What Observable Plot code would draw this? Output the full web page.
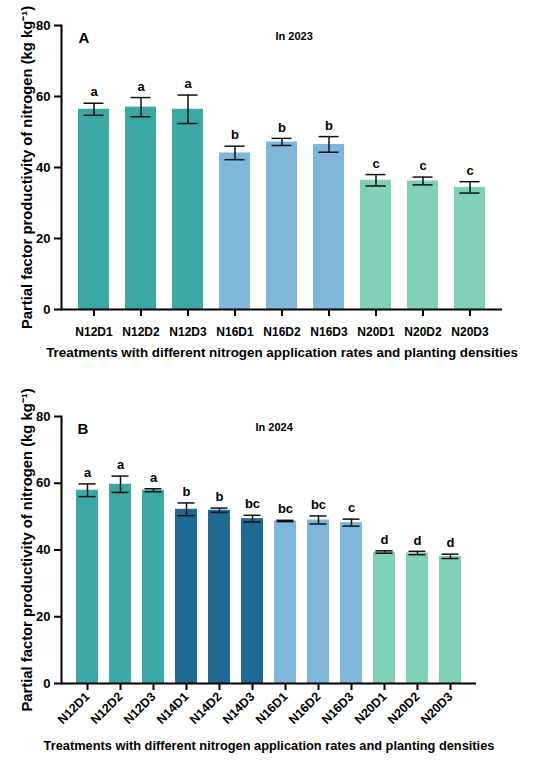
<!DOCTYPE html>
<html>
<head>
<meta charset="utf-8">
<script src="https://cdn.jsdelivr.net/npm/d3@7"></script>
<script src="https://cdn.jsdelivr.net/npm/@observablehq/plot@0.6"></script>
<style>
  html, body { margin: 0; padding: 0; background: white; }
  #chart svg { display: block; }
</style>
</head>
<body>
<div id="chart"></div>
<script>
// ---- Data ----
const treatA = ["N12D1","N12D2","N12D3","N16D1","N16D2","N16D3","N20D1","N20D2","N20D3"];
const meanA  = [56.4, 57.0, 56.4, 44.1, 47.2, 46.5, 36.4, 36.2, 34.4];
const sdA    = [1.7, 2.7, 4.0, 1.9, 1.0, 2.2, 1.6, 1.1, 1.6];
const letA   = ["a","a","a","b","b","b","c","c","c"];

const treatB = ["N12D1","N12D2","N12D3","N14D1","N14D2","N14D3","N16D1","N16D2","N16D3","N20D1","N20D2","N20D3"];
const meanB  = [57.9, 59.7, 57.9, 52.2, 51.9, 49.4, 48.7, 49.0, 48.2, 39.4, 39.1, 38.1];
const sdB    = [1.9, 2.45, 0.45, 1.9, 0.65, 1.0, 0.2, 1.2, 1.05, 0.35, 0.5, 0.65];
const letB   = ["a","a","a","b","b","bc","bc","bc","c","d","d","d"];

const groups = ["N12","N14","N16","N20"];
const groupColors = ["#3aa8a5","#1f6995","#7eb7d9","#80cfb8"];
const yTicks = [0, 20, 40, 60, 80];
const yLabel = "Partial factor productivity of nitrogen (kg kg\u207B\u00B9)";
const xLabel = "Treatments with different nitrogen application rates and planting densities";

function rows(t, m, s, l) {
  return t.map((d, i) => ({t: d, m: m[i], s: s[i], l: l[i], g: d.slice(0, 3)}));
}

function panel(o) {
  const data = rows(o.t, o.m, o.s, o.l);
  return Plot.plot({
    width: 550,
    height: o.height,
    marginLeft: 61,
    marginRight: o.marginRight,
    marginTop: o.marginTop,
    marginBottom: o.marginBottom,
    style: {fontFamily: "'Liberation Sans', Arial, Helvetica, sans-serif", fontWeight: "bold", color: "black", background: "white"},
    x: {domain: o.t, paddingInner: 0.33, paddingOuter: 0.3, label: null},
    y: {domain: [0, 80], label: null},
    color: {domain: groups, range: groupColors},
    marks: [
      Plot.barY(data, {x: "t", y: "m", fill: "g"}),
      Plot.ruleX(data, {x: "t", y1: d => d.m - d.s, y2: d => d.m + d.s, stroke: "#111", strokeWidth: 1.5}),
      Plot.tickY(data, {x: "t", y: d => d.m + d.s, stroke: "#111", strokeWidth: 1.5, insetLeft: o.capInset, insetRight: o.capInset}),
      Plot.tickY(data, {x: "t", y: d => d.m - d.s, stroke: "#111", strokeWidth: 1.5, insetLeft: o.capInset, insetRight: o.capInset}),
      Plot.text(data, {x: "t", y: d => d.m + d.s, text: "l", dy: -11, fontSize: 13, fontWeight: "bold"}),
      Plot.axisY({ticks: yTicks, tickSize: 7, tickPadding: 4, fontSize: 13, strokeWidth: 2, label: null}),
      Plot.axisY({ticks: [], label: yLabel, labelAnchor: "center", labelOffset: 40, labelArrow: "none", fontSize: 14.8}),
      Plot.axisX(o.rotate
        ? {tickSize: 7, tickPadding: 4, fontSize: 12.5, strokeWidth: 2, tickRotate: -45, label: null}
        : {tickSize: 7, tickPadding: 11, fontSize: 12, strokeWidth: 2, label: null}),
      Plot.axisX({ticks: [], label: xLabel, labelAnchor: "center", labelOffset: o.xLabelOffset, labelArrow: "none", fontSize: o.xLabelSize}),
      Plot.ruleY([0], {strokeWidth: 2}),
      Plot.frame({anchor: "left", strokeWidth: 2}),
      Plot.text([o.tag], {frameAnchor: "top-left", dx: o.tagDx, dy: 7, text: d => d, fontSize: 15, fontWeight: "bold", textAnchor: "start"}),
      Plot.text([o.year], {frameAnchor: "top-left", dx: o.yearDx, dy: 7, text: d => d, fontSize: 11, fontWeight: "bold", textAnchor: "start"})
    ]
  });
}

const chart = document.getElementById("chart");
chart.append(panel({
  t: treatA, m: meanA, s: sdA, l: letA,
  height: 380, marginTop: 25, marginBottom: 71, marginRight: 48,
  capInset: 5.5, rotate: false, xLabelOffset: 47, xLabelSize: 13.4,
  tag: "A", year: "In 2023", tagDx: 17, yearDx: 214
}));
chart.append(panel({
  t: treatB, m: meanB, s: sdB, l: letB,
  height: 381, marginTop: 36, marginBottom: 78, marginRight: 74,
  capInset: 2.5, rotate: true, xLabelOffset: 66, xLabelSize: 12.8,
  tag: "B", year: "In 2024", tagDx: 16, yearDx: 194
}));
</script>
</body>
</html>
